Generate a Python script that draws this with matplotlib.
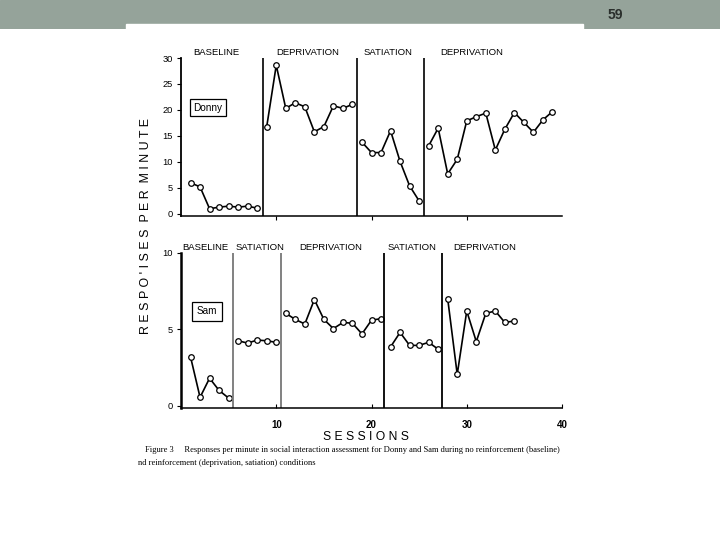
import matplotlib
matplotlib.use("Agg")
import matplotlib.pyplot as plt

# Donny (top panel): sessions and responses per minute for each phase
donny_sessions = [
    [1, 2, 3, 4, 5, 6, 7, 8],
    [9, 10, 11, 12, 13, 14, 15, 16, 17, 18],
    [19, 20, 21, 22, 23, 24, 25],
    [26, 27, 28, 29, 30, 31, 32, 33, 34, 35, 36, 37, 38, 39],
]
donny_values = [
    [6.0, 5.2, 1.0, 1.3, 1.5, 1.3, 1.5, 1.1],
    [16.8, 28.6, 20.3, 21.4, 20.6, 15.8, 16.8, 20.8, 20.3, 21.1],
    [13.8, 11.8, 11.8, 16.0, 10.1, 5.4, 2.5],
    [13.1, 16.5, 7.7, 10.5, 17.9, 18.7, 19.4, 12.3, 16.3, 19.5, 17.6, 15.7, 18.1, 19.7],
]
donny_changes = [8.6, 18.5, 25.5]
donny_phases = ["BASELINE", "DEPRIVATION", "SATIATION", "DEPRIVATION"]
donny_phase_x = [3.75, 13.3, 21.7, 30.5]

# Sam (bottom panel)
sam_sessions = [
    [1, 2, 3, 4, 5],
    [6, 7, 8, 9, 10],
    [11, 12, 13, 14, 15, 16, 17, 18, 19, 20, 21],
    [22, 23, 24, 25, 26, 27],
    [28, 29, 30, 31, 32, 33, 34, 35],
]
sam_values = [
    [3.2, 0.55, 1.8, 1.0, 0.5],
    [4.25, 4.1, 4.3, 4.25, 4.15],
    [6.05, 5.65, 5.35, 6.95, 5.65, 5.05, 5.45, 5.4, 4.7, 5.6, 5.7],
    [3.85, 4.8, 3.95, 3.95, 4.15, 3.7],
    [7.0, 2.05, 6.2, 4.2, 6.05, 6.2, 5.45, 5.55],
]
sam_changes = [5.5, 10.5, 21.3, 27.4]
sam_change_colors = ["#777777", "#777777", "black", "black"]
sam_phases = ["BASELINE", "SATIATION", "DEPRIVATION", "SATIATION", "DEPRIVATION"]
sam_phase_x = [2.6, 8.3, 15.7, 24.2, 31.9]

donny_yticks = [0, 5, 10, 15, 20, 25, 30]
sam_yticks = [0, 5, 10]
session_ticks = [10, 20, 30, 40]

W, H = 720, 540
fig = plt.figure(figsize=(7.2, 5.4), dpi=100)
fig.patch.set_facecolor("white")


def px_axes(left, top, right, bottom, **kw):
    return fig.add_axes([left / W, 1 - bottom / H, (right - left) / W, (bottom - top) / H], **kw)


# slide header bar
hdr = px_axes(0, 0, 720, 29)
hdr.set_axis_off()
hdr.add_patch(plt.Rectangle((0, 0), 1, 1, transform=hdr.transAxes, color="#95a39a"))
hdr.add_patch(plt.Rectangle((126 / 720, 0), (583 - 126) / 720, 5 / 29,
                            transform=hdr.transAxes, color="white"))
hdr.text(615 / 720, 0.48, "59", transform=hdr.transAxes, ha="center", va="center",
         fontsize=10, fontweight="bold", color="#2a2f2c", family="Liberation Sans")

font = "Liberation Sans"
line_kw = dict(color="black", lw=1.2, marker="o", ms=4, mfc="white", mec="black", mew=0.9)


def style_axis(ax, yticks):
    for s in ["top", "right"]:
        ax.spines[s].set_visible(False)
    ax.spines["left"].set_linewidth(1.3)
    ax.spines["bottom"].set_linewidth(1.1)
    ax.set_yticks(yticks)
    ax.set_yticklabels([str(t) for t in yticks], fontsize=6.7, family=font)
    ax.tick_params(axis="y", direction="out", length=3, width=0.8, pad=3)
    ax.set_xlim(0, 40)
    ax.patch.set_alpha(0)


# top panel: Donny
ax1 = px_axes(181, 58, 562, 216)
ax1.set_ylim(-0.4, 30)
style_axis(ax1, donny_yticks)
ax1.set_xticks(session_ticks[:-1])
ax1.set_xticklabels([])
ax1.tick_params(axis="x", direction="out", length=3, width=0.8)
for xs, ys in zip(donny_sessions, donny_values):
    ax1.plot(xs, ys, **line_kw)
for xc in donny_changes:
    ax1.axvline(xc, color="black", lw=1.2)
for lab, xp in zip(donny_phases, donny_phase_x):
    ax1.text(xp, 31.0, lab, ha="center", va="center", fontsize=6.8, family=font, clip_on=False)
ax1.text(2.83, 20.4, "Donny", ha="center", va="center", fontsize=7.2, family=font,
         bbox=dict(boxstyle="square,pad=0.35", fc="white", ec="black", lw=0.9))

# bottom panel: Sam
ax2 = px_axes(181, 253, 562, 408)
ax2.set_ylim(-0.15, 10)
style_axis(ax2, sam_yticks)
ax2.spines["left"].set_linewidth(1.8)
ax2.set_xticks(session_ticks)
ax2.set_xticklabels([str(t) for t in session_ticks], fontsize=7, family=font, fontweight="bold")
ax2.tick_params(axis="x", direction="in", length=3, width=0.8, pad=9)
for xs, ys in zip(sam_sessions, sam_values):
    ax2.plot(xs, ys, **line_kw)
for xc, c in zip(sam_changes, sam_change_colors):
    ax2.axvline(xc, color=c, lw=1.3)
for lab, xp in zip(sam_phases, sam_phase_x):
    ax2.text(xp, 10.33, lab, ha="center", va="center", fontsize=6.8, family=font, clip_on=False)
ax2.text(2.73, 6.2, "Sam", ha="center", va="center", fontsize=7.2, family=font,
         bbox=dict(boxstyle="square,pad=0.45", fc="white", ec="black", lw=0.9))

# shared labels
ylab = "  ".join([" ".join("RESPO'ISES"), " ".join("PER"), " ".join("MINUTE")])
fig.text(146 / W, 1 - 226 / H, ylab, rotation=90, ha="center", va="center",
         fontsize=8.9, family=font)
fig.text(366 / W, 1 - 437 / H, " ".join("SESSIONS"), ha="center", va="center",
         fontsize=8.7, family=font)

# figure caption
fig.text(145 / W, 1 - 450 / H,
         "Figure 3     Responses per minute in social interaction assessment for Donny and Sam "
         "during no reinforcement (baseline)",
         ha="left", va="center", fontsize=6.1, family="Liberation Serif")
fig.text(138 / W, 1 - 463 / H, "nd reinforcement (deprivation, satiation) conditions",
         ha="left", va="center", fontsize=6.1, family="Liberation Serif")

fig.savefig("out.png", dpi=100)
